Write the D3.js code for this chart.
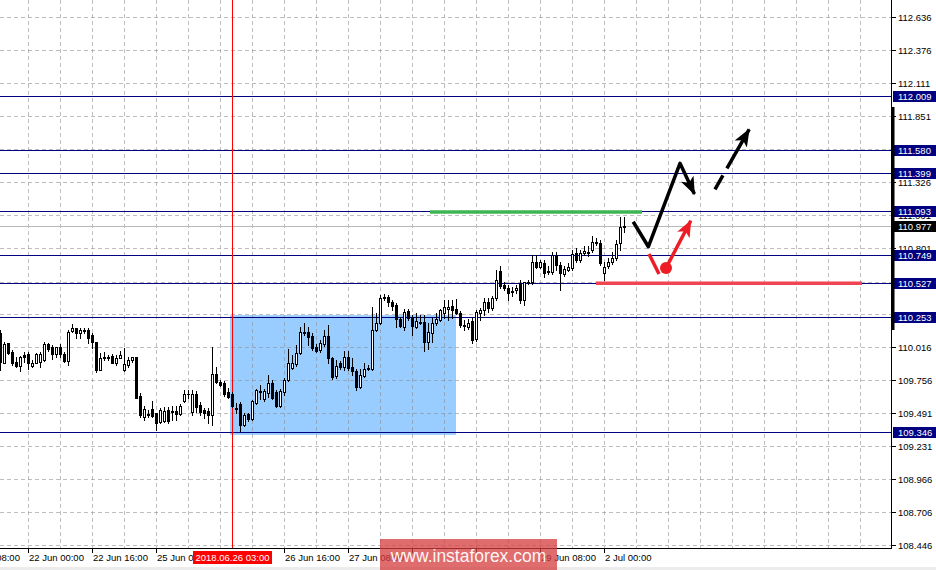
<!DOCTYPE html>
<html><head><meta charset="utf-8">
<script src="https://cdn.jsdelivr.net/npm/d3@7"></script>
<style>html,body{margin:0;padding:0;background:#fff;}svg{display:block;font-family:"Liberation Sans",Arial,sans-serif;}</style>
</head><body><svg id="c" width="936" height="570"></svg>
<script>
// ---------- DATA (USDJPY H1, candle index 0..156) ----------
const openP=[110.128,109.890,110.049,109.977,109.898,109.866,109.953,109.961,109.866,109.890,
109.898,109.914,110.041,110.017,109.961,110.017,109.961,109.906,110.144,110.168,
110.128,110.152,110.152,110.112,110.057,109.835,109.937,109.937,109.945,109.890,
109.930,109.835,109.874,109.914,109.937,109.628,109.461,109.485,109.525,109.493,
109.422,109.430,109.517,109.501,109.509,109.485,109.588,109.644,109.501,109.644,
109.556,109.517,109.509,109.477,109.803,109.739,109.731,109.660,109.644,109.533,
109.564,109.398,109.485,109.445,109.572,109.668,109.604,109.652,109.731,109.660,
109.548,109.660,109.755,109.850,109.882,109.969,110.136,110.136,110.104,110.017,
109.993,110.041,110.104,109.930,109.787,109.890,109.858,109.937,109.858,109.827,
109.700,109.787,109.843,109.843,110.152,110.207,110.414,110.414,110.374,110.350,
110.239,110.175,110.303,110.255,110.175,110.215,110.215,110.057,110.128,110.207,
110.231,110.287,110.319,110.342,110.319,110.287,110.191,110.175,110.223,110.080,
110.287,110.311,110.374,110.327,110.406,110.620,110.509,110.485,110.461,110.469,
110.525,110.390,110.525,110.533,110.691,110.651,110.683,110.620,110.612,110.747,
110.667,110.596,110.628,110.644,110.763,110.707,110.763,110.771,110.787,110.850,
110.842,110.604,110.659,110.691,110.724,110.842,110.969];
const highP=[110.152,110.057,110.049,109.993,109.937,109.945,109.977,109.977,109.914,109.969,
109.977,110.057,110.049,110.033,110.017,110.041,109.977,110.152,110.199,110.168,
110.168,110.168,110.168,110.128,110.057,109.969,109.977,109.953,109.961,109.953,
109.985,110.009,109.937,109.937,109.937,109.652,109.548,109.517,109.588,109.493,
109.533,109.541,109.541,109.548,109.548,109.564,109.676,109.676,109.676,109.668,
109.580,109.533,109.533,110.017,109.858,109.755,109.747,109.692,109.660,109.572,
109.580,109.493,109.493,109.596,109.684,109.716,109.684,109.795,109.755,109.676,
109.684,109.771,110.001,109.953,110.033,110.175,110.207,110.175,110.128,110.041,
110.073,110.152,110.191,109.937,109.914,109.906,109.985,109.985,109.930,109.843,
109.843,109.890,109.874,110.334,110.287,110.429,110.437,110.429,110.390,110.366,
110.255,110.319,110.319,110.271,110.287,110.271,110.271,110.207,110.247,110.287,
110.319,110.390,110.390,110.390,110.398,110.303,110.231,110.239,110.247,110.311,
110.327,110.406,110.406,110.422,110.628,110.659,110.533,110.509,110.493,110.509,
110.549,110.533,110.549,110.747,110.747,110.707,110.707,110.659,110.771,110.771,
110.691,110.659,110.683,110.787,110.803,110.787,110.818,110.818,110.898,110.883,
110.866,110.691,110.724,110.771,110.866,111.048,111.048];
const lowP=[109.835,109.890,109.961,109.874,109.858,109.827,109.898,109.843,109.858,109.890,
109.858,109.906,109.985,109.922,109.937,109.937,109.898,109.874,110.136,110.088,
110.088,110.128,110.049,110.009,109.819,109.835,109.914,109.914,109.890,109.874,
109.930,109.827,109.858,109.898,109.612,109.461,109.438,109.461,109.461,109.358,
109.414,109.422,109.414,109.438,109.438,109.477,109.580,109.612,109.477,109.501,
109.477,109.453,109.414,109.398,109.731,109.708,109.628,109.612,109.541,109.493,
109.350,109.390,109.430,109.438,109.564,109.604,109.588,109.620,109.604,109.541,
109.541,109.636,109.747,109.843,109.866,109.961,110.112,110.033,109.993,109.977,
109.977,110.025,109.890,109.763,109.771,109.843,109.835,109.835,109.795,109.676,
109.692,109.779,109.835,109.835,110.144,110.199,110.390,110.342,110.311,110.175,
110.175,110.152,110.231,110.112,110.168,110.199,109.985,110.001,110.057,110.191,
110.223,110.247,110.231,110.247,110.279,110.175,110.152,110.160,110.049,110.065,
110.231,110.271,110.295,110.311,110.390,110.485,110.469,110.390,110.422,110.445,
110.366,110.350,110.517,110.517,110.644,110.644,110.572,110.596,110.596,110.628,
110.469,110.580,110.620,110.628,110.691,110.691,110.747,110.739,110.771,110.826,
110.667,110.549,110.644,110.675,110.707,110.787,110.930];
const closeP=[109.898,110.041,109.969,109.890,109.866,109.937,109.937,109.890,109.890,109.961,
109.961,110.041,110.001,109.961,110.017,109.961,109.906,110.136,110.168,110.128,
110.152,110.144,110.088,110.057,109.835,109.930,109.930,109.930,109.890,109.930,
109.953,109.882,109.914,109.937,109.612,109.477,109.525,109.477,109.469,109.414,
109.517,109.509,109.430,109.509,109.485,109.548,109.644,109.644,109.644,109.541,
109.501,109.493,109.477,109.803,109.739,109.716,109.644,109.620,109.548,109.525,
109.398,109.477,109.445,109.588,109.676,109.660,109.668,109.731,109.612,109.548,
109.668,109.755,109.890,109.890,109.969,110.136,110.128,110.096,110.009,109.985,
110.049,110.104,109.930,109.779,109.866,109.858,109.937,109.850,109.827,109.700,
109.795,109.843,109.850,110.152,110.207,110.406,110.410,110.374,110.342,110.239,
110.183,110.295,110.247,110.183,110.223,110.207,110.057,110.136,110.207,110.239,
110.311,110.334,110.334,110.311,110.287,110.191,110.183,110.207,110.073,110.295,
110.311,110.374,110.327,110.406,110.549,110.501,110.485,110.445,110.453,110.485,
110.390,110.533,110.533,110.691,110.651,110.691,110.604,110.616,110.747,110.667,
110.604,110.636,110.651,110.755,110.707,110.763,110.779,110.775,110.850,110.846,
110.683,110.651,110.691,110.724,110.834,110.969,110.977];

// price grid ticks; labels are only shown where the reference shows them
const priceTicks=[112.636,112.376,112.111,111.851,111.586,111.326,111.061,110.801,110.536,110.276,110.016,109.756,109.491,109.231,108.966,108.706,108.446];
const priceTickLabels=[112.636,112.376,112.111,111.851,111.326,111.061,110.801,110.016,109.756,109.491,109.231,108.966,108.706,108.446];
const timeTickIdx=[-9,7,23,39,71,87,103,119,135,151];
const timeLabelIdx=[-9,7,23,39,71,87,135,151];
const timeLabels=["21 Jun 08:00","22 Jun 00:00","22 Jun 16:00","25 Jun 08:00","26 Jun 16:00","27 Jun 08:00","29 Jun 08:00","2 Jul 00:00"];
const levels=[112.009,111.580,111.399,111.093,110.749,110.527,110.253,109.346];
const currentPrice=110.977;
const markerIdx=58, markerLabel="2018.06.26 03:00";
const boxIdx=[57.5,114], boxPrice=[110.270,109.320];
const greenSeg={idx:[107.5,160.5],price:111.093};
const redSeg={idx:[149,215.5],price:110.527};
const blackArrow=[[158.3,111.011],[162.1,110.813],[170,111.475],[173.6,111.231]];
const dashedArrow=[[178.75,111.269],[187.3,111.745]];
const redStroke=[[162.25,110.755],[164.75,110.596]];
const redDot=[166.5,110.644];
const redArrow=[[166.5,110.644],[172.7,111.019]];
const rangeBar=[111.922,110.152];
const watermark="www.instaforex.com";

// ---------- DRAW ----------
const W=936,H=570,PR=891,PB=548;
const x=d3.scaleLinear().domain([0,222.75]).range([0,PR]);
const y=d3.scaleLinear().domain([108.446,112.636]).range([545,17]);
const cr=v=>Math.round(v)+0.5;
const svg=d3.select("#c");
const defs=svg.append("defs");
defs.append("clipPath").attr("id","clip").append("rect").attr("x",0).attr("y",0).attr("width",PR).attr("height",PB);
function mk(id,color,len,half){
  defs.append("marker").attr("id",id).attr("markerUnits","userSpaceOnUse")
    .attr("viewBox",`0 0 ${len} ${half*2}`).attr("markerWidth",len).attr("markerHeight",half*2)
    .attr("refX",len-1).attr("refY",half).attr("orient","auto")
    .append("path").attr("d",`M0,0 L${len},${half} L0,${half*2} L${len*0.25},${half} Z`).attr("fill",color);
}
mk("ahB","#000",18,7);
mk("ahR","#ee1c25",17,7);

svg.append("rect").attr("width",W).attr("height",H).attr("fill","#fff");
svg.append("rect").attr("x",0).attr("y",567).attr("width",W).attr("height",3).attr("fill","#ececec");

const plot=svg.append("g").attr("clip-path","url(#clip)");
plot.append("rect").attr("x",x(boxIdx[0])).attr("y",y(boxPrice[0]))
  .attr("width",x(boxIdx[1])-x(boxIdx[0])).attr("height",y(boxPrice[1])-y(boxPrice[0])).attr("fill","#99ccff");
const gridIdx=d3.range(7,222,8);
plot.selectAll(".gv").data(gridIdx).join("line").attr("x1",d=>cr(x(d))).attr("x2",d=>cr(x(d)))
  .attr("y1",0).attr("y2",PB).attr("stroke","#888").attr("stroke-opacity",0.55).attr("stroke-dasharray","4,3");
plot.selectAll(".gh").data(priceTicks).join("line").attr("x1",0).attr("x2",PR)
  .attr("y1",d=>cr(y(d))).attr("y2",d=>cr(y(d))).attr("stroke","#888").attr("stroke-opacity",0.55).attr("stroke-dasharray","4,3");
plot.append("line").attr("x1",0).attr("x2",PR).attr("y1",cr(y(currentPrice))).attr("y2",cr(y(currentPrice))).attr("stroke","#b8b8b8");
plot.selectAll(".lv").data(levels).join("line").attr("x1",0).attr("x2",PR)
  .attr("y1",d=>cr(y(d))).attr("y2",d=>cr(y(d))).attr("stroke","#000080");
plot.append("line").attr("x1",cr(x(markerIdx))).attr("x2",cr(x(markerIdx))).attr("y1",0).attr("y2",PB).attr("stroke","#ff0000");
const idx=d3.range(openP.length);
const cg=plot.append("g");
idx.forEach(i=>{
  const o=openP[i],c=closeP[i],h=highP[i],l=lowP[i];
  const cx=Math.round(x(i));
  cg.append("line").attr("x1",cx+0.5).attr("x2",cx+0.5).attr("y1",Math.round(y(h))).attr("y2",Math.round(y(l))+1).attr("stroke","#000");
  const yt=Math.round(y(Math.max(o,c))), yb=Math.round(y(Math.min(o,c)));
  if(c>o){
    cg.append("rect").attr("x",cx-0.5).attr("y",yt+0.5).attr("width",2).attr("height",Math.max(1,yb-yt)).attr("fill","#fff").attr("stroke","#000");
  }else if(c<o){
    cg.append("rect").attr("x",cx-1).attr("y",yt).attr("width",3).attr("height",Math.max(1,yb-yt+1)).attr("fill","#000");
  }else{
    cg.append("rect").attr("x",cx-1).attr("y",yt).attr("width",3).attr("height",1).attr("fill","#000");
  }
});
plot.append("line").attr("x1",x(greenSeg.idx[0])).attr("x2",x(greenSeg.idx[1])).attr("y1",y(greenSeg.price)+0.5).attr("y2",y(greenSeg.price)+0.5)
  .attr("stroke","#3cb554").attr("stroke-width",3.5);
plot.append("line").attr("x1",x(redSeg.idx[0])).attr("x2",x(redSeg.idx[1])).attr("y1",y(redSeg.price)+0.5).attr("y2",y(redSeg.price)+0.5)
  .attr("stroke","#ef4451").attr("stroke-width",3.5);
const ln=d3.line().x(d=>x(d[0])).y(d=>y(d[1]));
plot.append("path").attr("d",ln(blackArrow)).attr("fill","none").attr("stroke","#000").attr("stroke-width",3.5)
  .attr("stroke-linejoin","round").attr("marker-end","url(#ahB)");
plot.append("path").attr("d",ln(dashedArrow)).attr("fill","none").attr("stroke","#000").attr("stroke-width",3.5)
  .attr("stroke-dasharray","16,8,60").attr("marker-end","url(#ahB)");
plot.append("path").attr("d",ln(redStroke)).attr("fill","none").attr("stroke","#ee1c25").attr("stroke-width",3.5);
plot.append("path").attr("d",ln(redArrow)).attr("fill","none").attr("stroke","#ee1c25").attr("stroke-width",3.5).attr("marker-end","url(#ahR)");
plot.append("circle").attr("cx",x(redDot[0])).attr("cy",y(redDot[1])).attr("r",6).attr("fill","#ee1c25");

// axes
svg.append("line").attr("x1",PR+0.5).attr("x2",PR+0.5).attr("y1",0).attr("y2",PB+1).attr("stroke","#000");
svg.append("line").attr("x1",0).attr("x2",PR+1).attr("y1",PB+0.5).attr("y2",PB+0.5).attr("stroke","#000");
svg.selectAll(".rt").data(priceTicks).join("line").attr("x1",PR+1).attr("x2",PR+5)
  .attr("y1",d=>cr(y(d))).attr("y2",d=>cr(y(d))).attr("stroke","#000");
svg.selectAll(".rl").data(priceTickLabels).join("text").attr("x",898).attr("y",d=>y(d)+0.5)
  .attr("dominant-baseline","central").attr("font-size","9.5px").attr("fill","#000").text(d=>d.toFixed(3));
svg.selectAll(".bt").data(timeTickIdx).join("line").attr("x1",d=>cr(x(d))).attr("x2",d=>cr(x(d)))
  .attr("y1",PB).attr("y2",PB+5).attr("stroke","#000");
svg.selectAll(".bl").data(timeLabelIdx).join("text").attr("x",d=>x(d)+1).attr("y",557.5)
  .attr("dominant-baseline","central").attr("font-size","9.5px").attr("fill","#000").text((d,i)=>timeLabels[i]);
const mx=x(markerIdx);
svg.append("rect").attr("x",mx-39).attr("y",551).attr("width",79).attr("height",13).attr("fill","#ff0000");
svg.append("text").attr("x",mx+0.5).attr("y",557.8).attr("text-anchor","middle").attr("dominant-baseline","central")
  .attr("font-size","9.5px").attr("fill","#fff").text(markerLabel);
svg.selectAll(".lb").data(levels).join("rect").attr("x",893).attr("y",d=>Math.round(y(d))-5).attr("width",43).attr("height",11).attr("fill","#000080");
svg.selectAll(".lt").data(levels).join("text").attr("x",898).attr("y",d=>Math.round(y(d))+0.8)
  .attr("dominant-baseline","central").attr("font-size","9.5px").attr("fill","#fff").text(d=>d.toFixed(3));
svg.append("rect").attr("x",893).attr("y",Math.round(y(currentPrice))-5).attr("width",43).attr("height",11).attr("fill","#000");
svg.append("text").attr("x",898).attr("y",Math.round(y(currentPrice))+0.8).attr("dominant-baseline","central")
  .attr("font-size","9.5px").attr("fill","#fff").text(currentPrice.toFixed(3));
svg.append("rect").attr("x",PR).attr("y",y(rangeBar[0])).attr("width",3.5).attr("height",y(rangeBar[1])-y(rangeBar[0])).attr("fill","#000");
svg.append("rect").attr("x",380).attr("y",539).attr("width",177).attr("height",31).attr("fill","rgb(214,60,60)").attr("fill-opacity",0.75);
svg.append("text").attr("x",468.5).attr("y",562).attr("text-anchor","middle").attr("font-size","17.5px")
  .attr("fill","#fff").attr("fill-opacity",0.95).text(watermark);
</script>
</body></html>
